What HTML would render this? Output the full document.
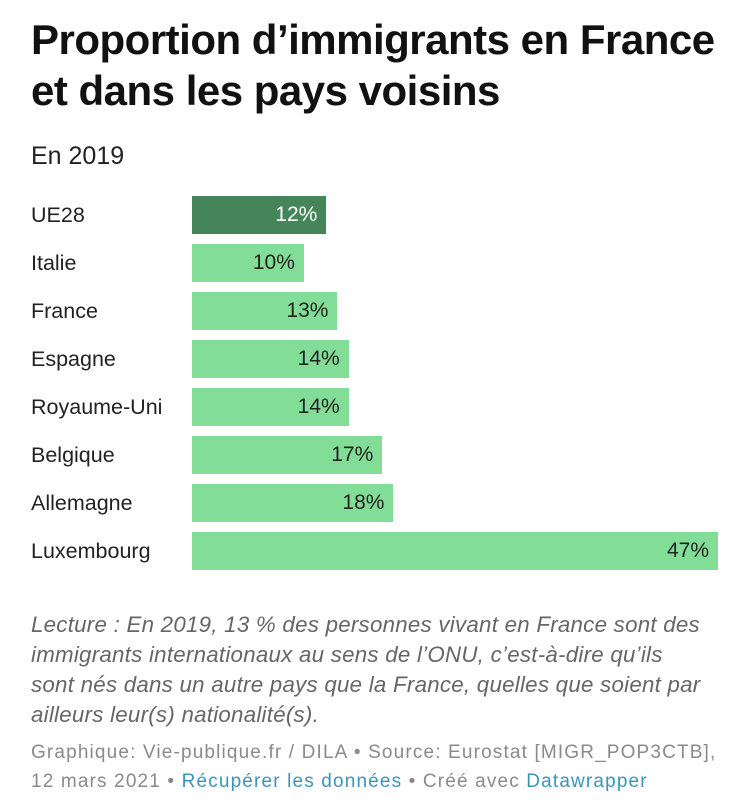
<!DOCTYPE html>
<html><head><meta charset="utf-8"><style>
body{margin:0;width:750px;height:804px;background:#fff;font-family:"Liberation Sans",sans-serif;position:relative;overflow:hidden}
.t{position:absolute;left:31px;top:14px;font-size:42px;font-weight:bold;line-height:51px;color:#111;letter-spacing:-0.5px;white-space:nowrap}
.s{position:absolute;left:31px;top:142px;font-size:25px;color:#222}
.lbl{position:absolute;left:31px;font-size:21.5px;color:#222;line-height:38px}
.bar{position:absolute;left:192px;height:38px}
.val{position:absolute;font-size:21px;line-height:38px;text-align:right}
.note{position:absolute;left:31px;top:610px;width:710px;font-size:22.3px;font-style:italic;color:#666;line-height:30px;letter-spacing:0.25px}
.foot{position:absolute;left:31px;top:738px;font-size:19px;color:#8a8a8a;line-height:29px;letter-spacing:1.15px;white-space:nowrap}
.foot a{color:#3a95b8;text-decoration:none}
</style></head><body>
<div class="t">Proportion d’immigrants en France<br>et dans les pays voisins</div>
<div class="s">En 2019</div>
<div id="chart"></div>
<div class="note">Lecture : En 2019, 13 % des personnes vivant en France sont des<br>immigrants internationaux au sens de l’ONU, c’est-à-dire qu’ils<br>sont nés dans un autre pays que la France, quelles que soient par<br>ailleurs leur(s) nationalité(s).</div>
<div class="foot">Graphique: Vie-publique.fr / DILA • Source: Eurostat [MIGR_POP3CTB],<br>12 mars 2021 • <a>Récupérer les données</a> • Créé avec <a>Datawrapper</a></div>
<script>
const categories=["UE28","Italie","France","Espagne","Royaume-Uni","Belgique","Allemagne","Luxembourg"];
const values=[12,10,13,14,14,17,18,47];
const labels=["12%","10%","13%","14%","14%","17%","18%","47%"];
const x0=192,x1=718,maxV=47,top0=196,step=48;
const xs=v=>(v/maxV)*(x1-x0);
const c=document.getElementById('chart');
categories.forEach((cat,i)=>{
  const y=top0+i*step;
  const l=document.createElement('div');l.className='lbl';l.style.top=y+'px';l.textContent=cat;
  
  
  c.appendChild(l);
  const w=xs(values[i]);
  const b=document.createElement('div');b.className='bar';b.style.top=y+'px';b.style.width=w+'px';
  b.style.background=i===0?'#458559':'#82de96';
  
  
  c.appendChild(b);
  const v=document.createElement('div');v.className='val';v.style.top=y+'px';v.style.left=(x0+w-80-9)+'px';v.style.width='80px';
  v.style.color=i===0?'#fff':'#222';v.textContent=labels[i];
  
  
  c.appendChild(v);
});
</script>
</body></html>
